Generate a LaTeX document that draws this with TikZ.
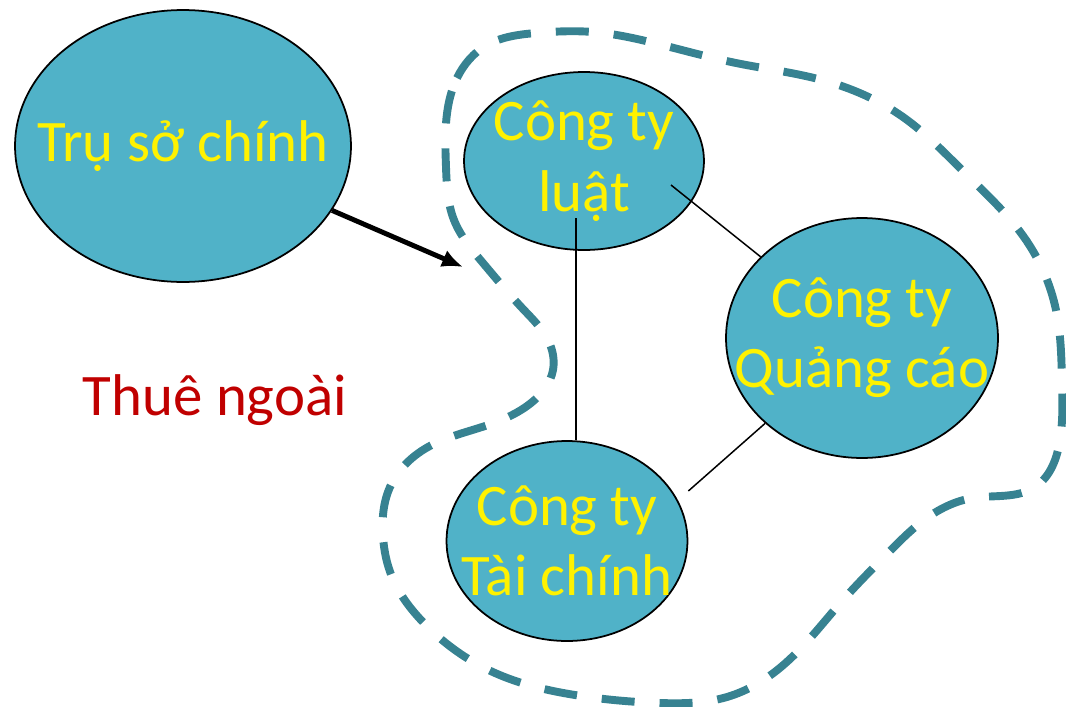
\documentclass[tikz,border=0pt]{standalone}
\usepackage{fontspec}
\setmainfont{Carlito}
\usetikzlibrary{positioning, arrows.meta, calc, hobby, shapes.geometric}

\definecolor{firmblue}{RGB}{80,178,200}
\definecolor{rimteal}{RGB}{55,130,145}
\definecolor{outred}{RGB}{192,0,0}

\tikzset{
  firm/.style={ellipse, draw=black, line width=1pt, fill=firmblue, inner sep=0pt},
  firmtext/.style={text=yellow, font=\fontsize{33.5}{40}\selectfont, align=center},
  link/.style={draw=black, line width=0.85pt},
}

\begin{document}
\begin{tikzpicture}[x=0.02cm, y=-0.02cm, use Hobby shortcut]
\useasboundingbox (0,0) rectangle (1066,707);

% outsourcing boundary
\draw[rimteal, line width=4.5pt, dash pattern=on 0.66cm off 0.5cm] ([closed]457,78)..(487,45)..(536,33)..(593,32)..(650,42)..(736,63)..(822,80)..(903,117)..(965,173)..(1026,240)..(1056,310)..(1062,380)..(1060,440)..(1035,487)..(973,498)..(924,520)..(888,553)..(843,600)..(781,667)..(727,697)..(660,703)..(575,695)..(495,673)..(421,620)..(392,577)..(383,537)..(390,487)..(428,447)..(482,427)..(531,403)..(553,370)..(548,340)..(524,310)..(483,263)..(454,220)..(446,167)..(448,107);

% head office
\node[firm, minimum width=6.72cm, minimum height=5.44cm, label={[firmtext]center:Trụ sở chính}] (tsc) at (183,146) {};

% partner firms
\node[firm, minimum width=4.8cm, minimum height=3.56cm, label={[firmtext]center:{Công ty\\luật}}] (luat) at (584,161) {};
\node[firm, minimum width=5.44cm, minimum height=4.8cm, label={[firmtext]center:{Công ty\\Quảng cáo}}] (qc) at (862,338) {};
\node[firm, minimum width=4.82cm, minimum height=4.0cm, label={[firmtext]center:{Công ty\\Tài chính}}] (tc) at (567,541) {};

\node[text=outred, font=\fontsize{33.5}{40}\selectfont, anchor=base] (thue) at (215,415) {Thuê ngoài};

% arrow into the boundary
\coordinate (arrtip) at (463,267);
\draw[-{Latex[length=0.42cm, width=0.36cm]}, line width=2.8pt] (tsc) -- (arrtip);

% links
\coordinate (lq) at ($(luat)+(87,24)$);
\draw[link] (lq) -- (qc);
\coordinate (lt) at ($(luat)+(-8,57)$);
\draw[link] (lt) -- (lt |- tc.north);
\coordinate (tq) at ($(tc.east)+(0,-50)$);
\draw[link] (tq) -- (qc);

\end{tikzpicture}
\end{document}
